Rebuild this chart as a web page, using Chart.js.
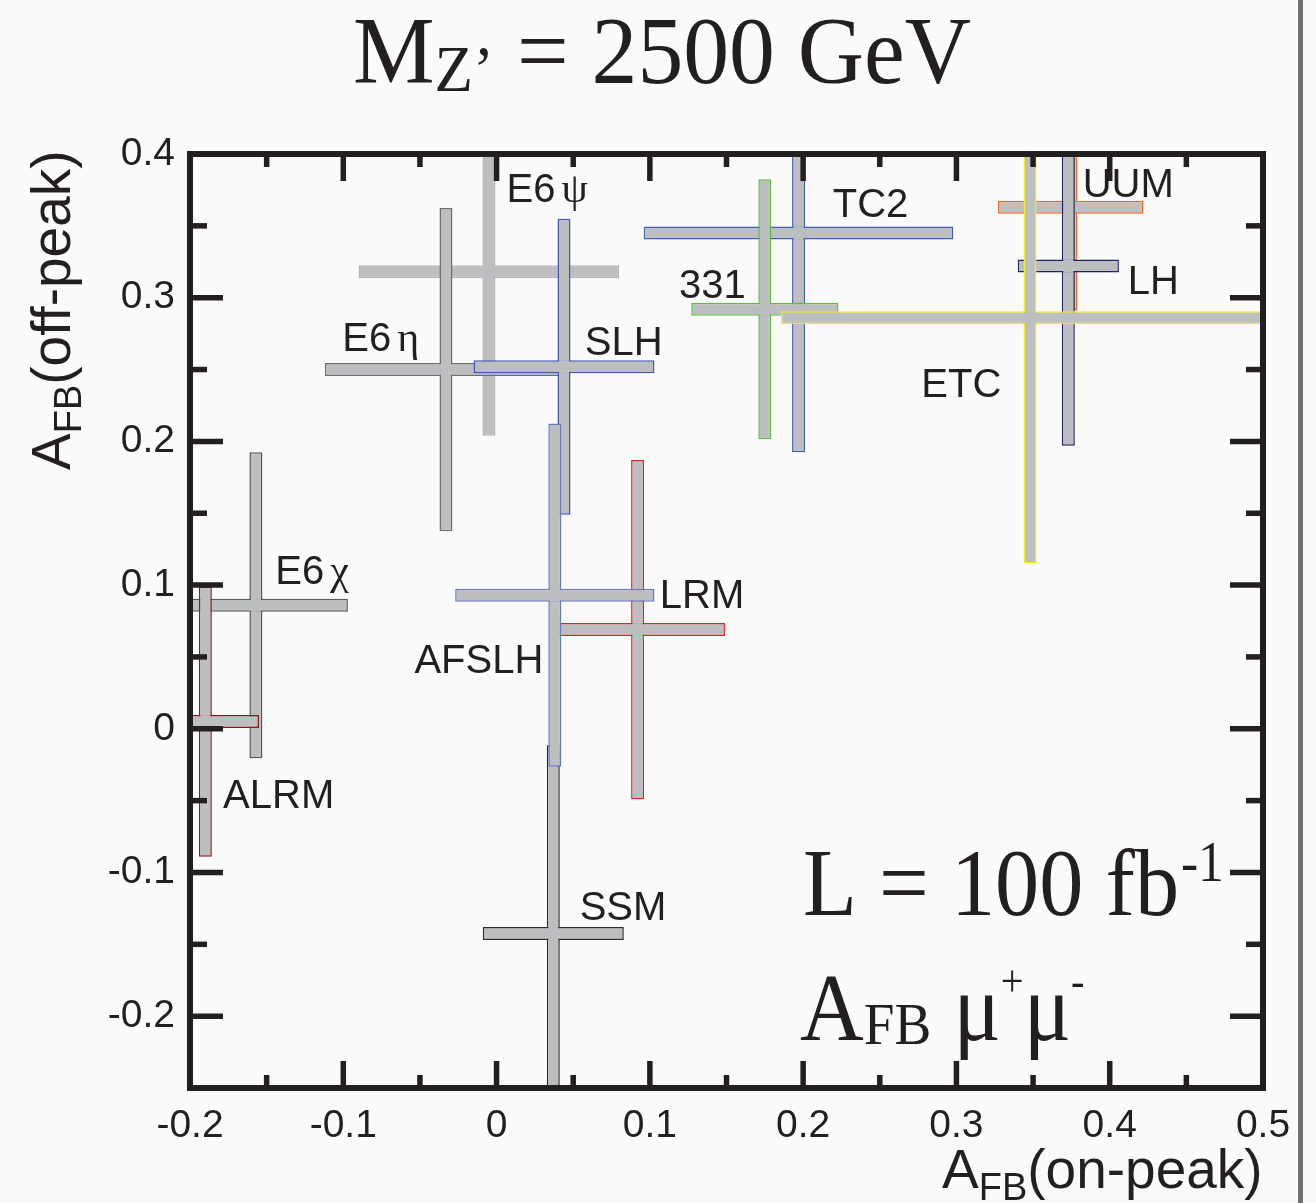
<!DOCTYPE html>
<html>
<head>
<meta charset="utf-8">
<script src="https://cdn.jsdelivr.net/npm/chart.js@4.4.1/dist/chart.umd.min.js"></script>
<style>
  html, body { margin: 0; padding: 0; background: #fafafa; }
  #wrap { position: relative; width: 1316px; height: 1203px; overflow: hidden; }
  canvas { display: block; }
</style>
</head>
<body>
<div id="wrap"><canvas id="c" width="1316" height="1203"></canvas></div>
<script>
// ---- data (drawing order: first = bottom) ----
const models      = ['E6ψ', 'E6η', 'SLH', 'E6χ', 'ALRM', 'LRM', 'SSM', 'AFSLH', 'TC2', '331', 'UUM', 'LH', 'ETC'];
const onPeak      = [-0.005, -0.033, 0.044, -0.157, -0.190, 0.092, 0.037, 0.038, 0.197, 0.175, 0.3745, 0.373, 0.348];
const onPeakErr   = [0.085, 0.079, 0.059, 0.060, 0.035, 0.057, 0.046, 0.065, 0.101, 0.048, 0.0475, 0.033, 0.1625];
const offPeak     = [0.318, 0.250, 0.252, 0.086, 0.005, 0.069, -0.1425, 0.093, 0.345, 0.292, 0.363, 0.322, 0.286];
const offPeakErr  = [0.114, 0.1125, 0.103, 0.1065, 0.094, 0.118, 0.131, 0.1195, 0.1525, 0.0905, 0.072, 0.125, 0.171];
const borderColors = ['#b3b5b8', '#6d6e71', '#3f57b0', '#58595b', '#8b1a1a', '#ed1c24', '#2b2b2b', '#6a78c4',
                      '#3f5fb5', '#5cbf3c', '#f26522', '#1f2366', '#f2ea1c'];
// label anchor (left, baseline) in data units
const labelX = [0.0065, -0.1007, 0.0575, -0.1444, -0.1784, 0.1065, 0.0542, -0.0536, 0.2193, 0.119, 0.3824, 0.4118, 0.2771];
const labelY = [0.3664, 0.2627, 0.2599, 0.1006, -0.0553, 0.0839, -0.1333, 0.0386, 0.356, 0.2996, 0.3699, 0.3023, 0.2307];

const xTickValues = [-0.2, -0.1, 0, 0.1, 0.2, 0.3, 0.4, 0.5];
const xTickLabels = ['-0.2', '-0.1', '0', '0.1', '0.2', '0.3', '0.4', '0.5'];
const yTickValues = [-0.2, -0.1, 0, 0.1, 0.2, 0.3, 0.4];
const yTickLabels = ['-0.2', '-0.1', '0', '0.1', '0.2', '0.3', '0.4'];
const xRange = [-0.2, 0.5];
const yRange = [-0.25, 0.4];

const titleText = ['M', 'Z’', ' = 2500 GeV'];
const lumiText = ['L = 100 fb', '-1'];
const lumiPos = [0.1999, -0.1296];
const afbText = ['A', 'FB', ' μ', '+', 'μ', '-'];
const afbPos = [0.198, -0.2166];
const xTitle = ['A', 'FB', '(on-peak)'];
const yTitle = ['A', 'FB', '(off-peak)'];

// ---- styles ----
const FILL = '#bcbec0';
const INK = '#231f20';
const BW = 1.5;
const THICK = 13;
const SANS = '"Liberation Sans", Arial, Helvetica, sans-serif';
const SERIF = '"Liberation Serif", "Times New Roman", serif';

const datasets = [];
const N = models.length;
models.forEach((m, i) => {
  const base = (N - i) * 2;
  const common = {
    backgroundColor: FILL, borderColor: borderColors[i], borderWidth: BW,
    borderSkipped: false, barThickness: THICK, grouped: false, clip: 0,
    inflateAmount: 0, crossIndex: i
  };
  datasets.push(Object.assign({}, common, {
    label: m + ' (off-peak)', indexAxis: 'x', order: base + 1, part: 'v',
    data: [{ x: onPeak[i], y: [offPeak[i] - offPeakErr[i], offPeak[i] + offPeakErr[i]] }]
  }));
  datasets.push(Object.assign({}, common, {
    label: m + ' (on-peak)', indexAxis: 'y', order: base, part: 'h',
    data: [{ y: offPeak[i], x: [onPeak[i] - onPeakErr[i], onPeak[i] + onPeakErr[i]] }]
  }));
});

function drawRich(ctx, x, y, parts, sx, rot) {
  ctx.save();
  ctx.translate(x, y);
  if (rot) ctx.rotate(rot);
  ctx.scale(sx || 1, 1);
  ctx.fillStyle = INK;
  ctx.textBaseline = 'alphabetic';
  ctx.textAlign = 'left';
  let cx = 0;
  for (const p of parts) {
    ctx.font = p.font;
    cx += (p.dx || 0);
    ctx.fillText(p.t, cx, p.dy || 0);
    cx += ctx.measureText(p.t).width;
  }
  ctx.restore();
}

const crossPlugin = {
  id: 'crossPlugin',
  afterDatasetDraw(chart, args) {
    const ds = chart.data.datasets[args.index];
    if (ds.part !== 'h') return;
    const i = ds.crossIndex;
    const ctx = chart.ctx, a = chart.chartArea;
    const px = chart.scales.x.getPixelForValue(onPeak[i]);
    const py = chart.scales.y.getPixelForValue(offPeak[i]);
    const h = THICK / 2;
    ctx.save();
    ctx.beginPath();
    ctx.rect(a.left, a.top, a.right - a.left, a.bottom - a.top);
    ctx.clip();
    ctx.fillStyle = FILL;
    ctx.fillRect(px - h, py - h + BW, THICK, THICK - 2 * BW);
    ctx.fillRect(px - h + BW, py - h, THICK - 2 * BW, THICK);
    ctx.restore();
  },
  afterDatasetsDraw(chart) {
    const ctx = chart.ctx, a = chart.chartArea;
    const xs = chart.scales.x, ys = chart.scales.y;
    // model labels
    ctx.save();
    ctx.fillStyle = INK;
    ctx.textBaseline = 'alphabetic';
    ctx.textAlign = 'left';
    models.forEach((m, i) => {
      const lx = xs.getPixelForValue(labelX[i]);
      const ly = ys.getPixelForValue(labelY[i]);
      if (m.startsWith('E6') && m.length > 2) {
        ctx.font = '40px ' + SANS;
        ctx.fillText('E6', lx, ly);
        const w = ctx.measureText('E6').width;
        ctx.font = '42px ' + SERIF;
        ctx.fillText(m.slice(2), lx + w + 6, ly);
      } else {
        ctx.font = '40px ' + SANS;
        ctx.fillText(m, lx, ly);
      }
    });
    ctx.restore();

    // frame and inward ticks
    ctx.save();
    ctx.strokeStyle = INK;
    ctx.fillStyle = INK;
    ctx.lineWidth = 5.5;
    ctx.lineCap = 'butt';
    const tk = (x1, y1, x2, y2) => { ctx.beginPath(); ctx.moveTo(x1, y1); ctx.lineTo(x2, y2); ctx.stroke(); };
    for (let k = 0; k < xTickValues.length; k++) {
      const v = xTickValues[k];
      const p = xs.getPixelForValue(v);
      tk(p, a.bottom, p, a.bottom - 27);
      tk(p, a.top, p, a.top + 27);
      if (k < xTickValues.length - 1) {
        const q = xs.getPixelForValue((v + xTickValues[k + 1]) / 2);
        tk(q, a.bottom, q, a.bottom - 13);
        tk(q, a.top, q, a.top + 13);
      }
    }
    for (let k = 0; k < yTickValues.length; k++) {
      const v = yTickValues[k];
      const p = ys.getPixelForValue(v);
      tk(a.left, p, a.left + 33, p);
      tk(a.right, p, a.right - 33, p);
      if (k < yTickValues.length - 1) {
        const q = ys.getPixelForValue((v + yTickValues[k + 1]) / 2);
        tk(a.left, q, a.left + 17, q);
        tk(a.right, q, a.right - 17, q);
      }
    }
    ctx.lineWidth = 6;
    ctx.strokeRect(a.left, a.top, a.right - a.left, a.bottom - a.top);
    ctx.restore();

    // in-plot annotations
    drawRich(ctx, xs.getPixelForValue(lumiPos[0]), ys.getPixelForValue(lumiPos[1]), [
      { t: lumiText[0], font: '96px ' + SERIF },
      { t: lumiText[1], font: '56px ' + SERIF, dy: -34, dx: 2 }
    ], 0.92);
    drawRich(ctx, xs.getPixelForValue(afbPos[0]), ys.getPixelForValue(afbPos[1]), [
      { t: afbText[0], font: '96px ' + SERIF },
      { t: afbText[1], font: '60px ' + SERIF, dy: 4 },
      { t: afbText[2], font: '96px ' + SERIF },
      { t: afbText[3], font: '44px ' + SERIF, dy: -44 },
      { t: afbText[4], font: '96px ' + SERIF },
      { t: afbText[5], font: '44px ' + SERIF, dy: -44 }
    ], 0.92);
  },
  afterDraw(chart) {
    const ctx = chart.ctx;
    // title
    drawRich(ctx, 353, 83, [
      { t: titleText[0], font: '96px ' + SERIF },
      { t: titleText[1], font: '66px ' + SERIF, dy: 8 },
      { t: titleText[2], font: '96px ' + SERIF }
    ], 0.955);
    // axis titles
    drawRich(ctx, 942, 1188, [
      { t: xTitle[0], font: '55px ' + SANS },
      { t: xTitle[1], font: '38px ' + SANS, dy: 12 },
      { t: xTitle[2], font: '55px ' + SANS }
    ], 1);
    drawRich(ctx, 70, 470, [
      { t: yTitle[0], font: '55px ' + SANS },
      { t: yTitle[1], font: '38px ' + SANS, dy: 11 },
      { t: yTitle[2], font: '55px ' + SANS }
    ], 1, -Math.PI / 2);
    // right page edge line
    ctx.save();
    ctx.fillStyle = '#6f6f6f';
    ctx.fillRect(1298, 0, 5, chart.height);
    ctx.restore();
  }
};

new Chart(document.getElementById('c'), {
  type: 'bar',
  data: { datasets },
  plugins: [crossPlugin],
  options: {
    responsive: false,
    animation: false,
    events: [],
    devicePixelRatio: 1,
    layout: { padding: { top: 154, right: 53, bottom: 0, left: 0 } },
    plugins: { legend: { display: false }, tooltip: { enabled: false }, title: { display: false } },
    scales: {
      x: {
        type: 'linear', min: xRange[0], max: xRange[1], offset: false,
        grid: { display: false, drawTicks: false, offset: false },
        border: { display: false },
        ticks: {
          font: { family: SANS, size: 39 }, color: INK, padding: 15,
          autoSkip: false, maxRotation: 0, minRotation: 0,
          callback: (v, i) => xTickLabels[i]
        },
        afterBuildTicks: s => { s.ticks = xTickValues.map(v => ({ value: v })); },
        afterFit: s => { s.height = 115; }
      },
      y: {
        type: 'linear', min: yRange[0], max: yRange[1], offset: false,
        grid: { display: false, drawTicks: false },
        border: { display: false },
        ticks: {
          font: { family: SANS, size: 39 }, color: INK, padding: 15,
          autoSkip: false,
          callback: (v, i) => yTickLabels[i]
        },
        afterBuildTicks: s => { s.ticks = yTickValues.map(v => ({ value: v })); },
        afterFit: s => { s.width = 190; }
      }
    }
  }
});
</script>
</body>
</html>
